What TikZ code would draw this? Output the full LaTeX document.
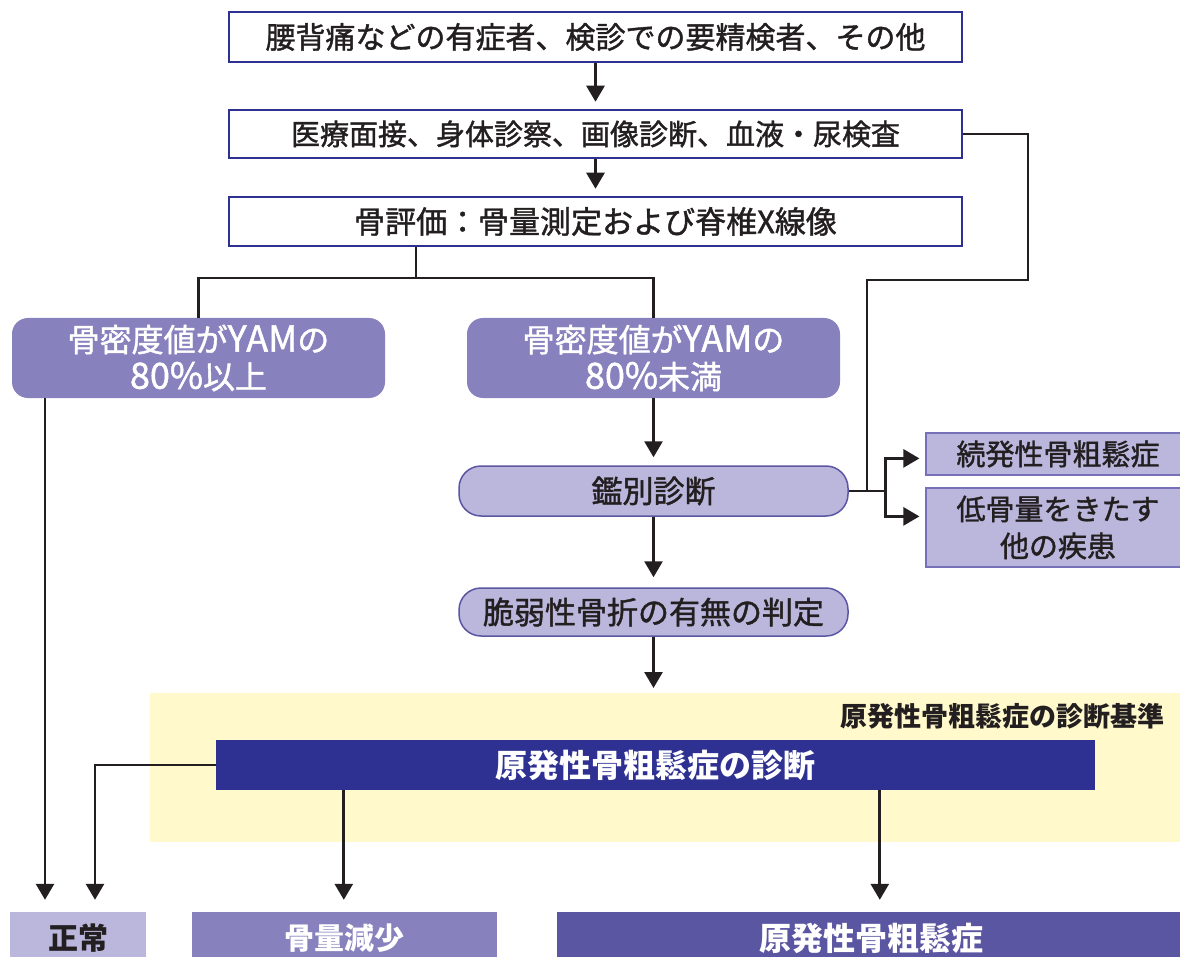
\documentclass[tikz,border=0pt]{standalone}
\usepackage{fontspec}
\setmainfont{Noto Sans CJK JP}
\newfontfamily\jpm{Noto Sans CJK JP}[FakeBold=1.3]
\usetikzlibrary{arrows.meta,calc}
\definecolor{navy}{HTML}{2E3192}
\definecolor{purp}{HTML}{8781BD}
\definecolor{lav}{HTML}{BAB6DC}
\definecolor{midp}{HTML}{5B56A2}
\definecolor{sideb}{HTML}{7570B8}
\definecolor{yel}{HTML}{FFF9CC}
\definecolor{ink}{HTML}{231F20}
\newcommand{\lat}[1]{{\fontsize{36}{37}\selectfont #1}}
\begin{document}
\begin{tikzpicture}[x=1pt,y=-1pt,
  wbox/.style={draw=navy,line width=2.5pt,fill=white,text=ink,minimum width=733pt,inner sep=0pt},
  pbox/.style={fill=purp,rounded corners=16pt,minimum width=373pt,minimum height=80pt,text=white,align=center,inner sep=0pt,font=\jpm\fontsize{32}{37}\selectfont},
  rbox/.style={fill=lav,draw=midp,line width=1.5pt,rounded corners=22pt,minimum width=389pt,inner sep=0pt,text=ink,font=\jpm\fontsize{31}{36}\selectfont},
  sbox/.style={fill=lav,draw=sideb,line width=1.2pt,minimum width=264pt,inner sep=0pt,align=center,text=ink,font=\jpm\fontsize{29}{37}\selectfont},
  bbox/.style={minimum height=52pt,inner sep=0pt},
  arr/.style={-{Triangle[width=18pt,length=16pt]},line width=2.7pt,draw=ink},
  ln/.style={line width=2.7pt,draw=ink}]
\clip (0,0) rectangle (1180,957);
\fill[white] (0,0) rectangle (1180,957);
% yellow region
\fill[yel] (150,693) rectangle (1190,842);
\node[anchor=east,text=ink,font=\fontsize{27}{30}\selectfont\bfseries] (lbl) at (1168,716) {原発性骨粗鬆症の診断基準};

% top boxes
\node[wbox,minimum height=50pt,font=\jpm\fontsize{30}{34}\selectfont] (b1) at (595.5,37) {腰背痛などの有症者、検診での要精検者、その他};
\node[wbox,minimum height=48pt,font=\jpm\fontsize{29}{34}\selectfont] (b2) at (595.5,134) {医療面接、身体診察、画像診断、血液・尿検査};
\node[wbox,minimum height=49pt,font=\jpm\fontsize{31}{34}\selectfont] (b3) at (595.5,221.5) {骨評価：骨量測定および脊椎X線像};

% purple boxes
\node[pbox] (L) at (198.5,358) {骨密度値が\lat{YAM}の\\\lat{80\%}以上};
\node[pbox] (M) at (653.5,358) {骨密度値が\lat{YAM}の\\\lat{80\%}未満};

% rounded boxes
\node[rbox,minimum height=50pt] (kan) at (653.5,491) {鑑別診断};
\node[rbox,minimum height=48pt] (zei) at (653.5,612) {脆弱性骨折の有無の判定};

% side boxes
\node[sbox,minimum height=42pt] (zok) at (1058,454) {続発性骨粗鬆症};
\node[sbox,minimum height=79pt] (teki) at (1058,527.5) {低骨量をきたす\\他の疾患};

% navy diagnosis box
\node[fill=navy,minimum width=879pt,minimum height=50pt,inner sep=0pt,text=white,font=\fontsize{32}{36}\selectfont\bfseries] (nv) at (655.5,765) {原発性骨粗鬆症の診断};

% bottom boxes
\node[bbox,fill=lav,minimum width=136pt,text=ink,font=\fontsize{30}{36}\selectfont\bfseries] (sei) at (78,938) {正常};
\node[bbox,fill=purp,minimum width=305pt,text=white,font=\fontsize{30}{36}\selectfont\bfseries] (gen0) at (344.5,938) {骨量減少};
\node[bbox,fill=midp,minimum width=628pt,text=white,font=\fontsize{32}{36}\selectfont\bfseries] (gen1) at (871,938) {原発性骨粗鬆症};
\fill[lav] (10,960) rectangle (146,970);
\fill[purp] (192,960) rectangle (497,970);
\fill[midp] (557,960) rectangle (1190,970);

% connectors
\draw[arr,shorten >=7pt] (b1.south) -- (b2.north);
\draw[arr,shorten >=7pt] (b2.south) -- (b3.north);
\coordinate (j1) at (416,278);
\draw[ln] (j1 |- b3.south) -- (j1);
\draw[ln] (L.north) |- (j1) -| (M.north);

\coordinate (xa) at (45,0);
\draw[arr,shorten >=12pt] (xa |- L.south) -- (xa |- sei.north);
\draw[arr,shorten >=8pt] (M.south) -- (kan.north);
\draw[arr,shorten >=10pt] (kan.south) -- (zei.north);
\coordinate (yt) at (653.5,688);
\draw[arr] (zei.south) -- (yt);

\coordinate (r1) at (1028,280);
\coordinate (r2) at (867,280);
\draw[ln] (b2.east) -| (r1) -- (r2) -- (r2 |- kan.east);
\coordinate (j2) at ($(kan.east)+(37,0)$);
\draw[ln] (kan.east) -- (j2);
\coordinate (t0) at ($(zok.north west)+(0,26)$);
\coordinate (t1) at ($(teki.north west)+(0,29)$);
\draw[arr,shorten >=6pt] (j2) |- (t0);
\draw[arr,shorten >=6pt] (j2) |- (t1);

\coordinate (xb) at (95,0);
\draw[arr,shorten >=12pt] (nv.west) -| (xb |- sei.north);
\coordinate (n1) at ($(nv.south west)+(128,0)$);
\coordinate (n2) at ($(nv.south west)+(664,0)$);
\draw[arr,shorten >=12pt] (n1) -- (n1 |- gen0.north);
\draw[arr,shorten >=12pt] (n2) -- (n2 |- gen1.north);
\end{tikzpicture}
\end{document}
